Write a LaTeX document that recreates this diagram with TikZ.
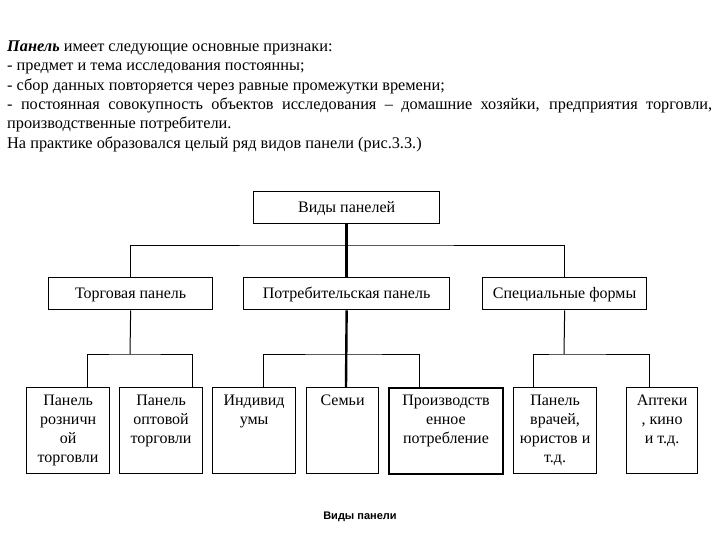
\documentclass[tikz,border=0pt]{standalone}
\usepackage{fontspec}
\setmainfont{Liberation Serif}
\newfontfamily\capfont{Liberation Sans}
\tikzset{
  txt/.style={anchor=base west, inner sep=0pt, font=\fontsize{16.3}{19}\selectfont},
  boxa/.style={draw, line width=1.3pt, anchor=north west, inner sep=0pt, font=\fontsize{16}{19}\selectfont},
  boxc/.style={draw, line width=1.2pt, anchor=north west, inner sep=0pt, font=\fontsize{16}{19}\selectfont},
  thin/.style={line width=1pt},
  thick2/.style={line width=2.4pt},
}
\newcommand{\bx}[2]{\parbox[c][32pt][c]{#1}{\centering\vspace*{2pt}#2}}
\newcommand{\bxc}[2]{\parbox[c][86pt][t]{#1}{\centering\vspace*{7pt}#2}}
\begin{document}
\begin{tikzpicture}[x=1pt,y=-1pt]
\useasboundingbox (0,0) rectangle (720,540);
% body text
\node[txt] (l1) at (7,52) {\textbf{\textit{Панель}} имеет следующие основные признаки:};
\node[txt] (l2) at (7,71) {- предмет и тема исследования постоянны;};
\node[txt] (l3) at (7,91) {- сбор данных повторяется через равные промежутки времени;};
\node[txt] (l4) at (7,110) {\makebox[705pt][s]{- постоянная совокупность объектов исследования -- домашние хозяйки, предприятия торговли,}};
\node[txt] (l5) at (7,129) {производственные потребители.};
\node[txt] (l6) at (7,149) {На практике образовался целый ряд видов панели (рис.3.3.)};
% top
\node[boxa] (top) at (253,191) {\bx{186pt}{Виды панелей}};
% level 2
\node[boxa] (tp) at (48,277) {\bx{164pt}{Торговая панель}};
\node[boxa] (pp) at (243,277) {\bx{206pt}{Потребительская панель}};
\node[boxa] (sf) at (482,277) {\bx{164pt}{Специальные формы}};
% level 3
\node[boxc] (r1) at (26,387) {\bxc{83pt}{Панель\\розничн\\ой\\торговли}};
\node[boxc] (r2) at (119,387) {\bxc{83pt}{Панель\\оптовой\\торговли}};
\node[boxc] (r3) at (212,387) {\bxc{83pt}{Индивид\\умы}};
\node[boxc] (r4) at (306,387) {\bxc{72pt}{Семьи}};
\node[boxc, line width=2pt] (r5) at (388,387) {\bxc{114pt}{Производств\\енное\\потребление}};
\node[boxc] (r6) at (513,387) {\bxc{83pt}{Панель\\врачей,\\юристов и\\т.д.}};
\node[boxc] (r7) at (626,387) {\bxc{71pt}{Аптеки\\, кино\\и т.д.}};
% bend points
\coordinate (c0) at (346,245);
\coordinate (b1) at (130,354);
\coordinate (b2) at (346,354);
\coordinate (b3) at (564,354);
% connectors level 1 -> 2
\draw[thin] (tp.north) |- (c0) -| (sf.north);
\draw[thick2] (top.south) -- (pp.north);
% Торговая
\draw[thin] (tp.south) -- (b1);
\draw[thin] ([xshift=61pt]r1.north west) |- (b1) -| ([xshift=73pt]r2.north west);
% Потребительская
\draw[thin] ([xshift=51pt]r3.north west) |- (b2) -| ([xshift=31pt]r5.north west);
\draw[thick2] (pp.south) -- ([xshift=40pt]r4.north west);
% Специальные
\draw[thin] (sf.south) -- (b3);
\draw[thin] ([xshift=20pt]r6.north west) |- (b3) -| ([xshift=23pt]r7.north west);
% caption
\node[anchor=base, inner sep=0pt, font=\capfont\bfseries\fontsize{11}{13}\selectfont] (cap) at (360,519) {Виды панели};
\end{tikzpicture}
\end{document}
